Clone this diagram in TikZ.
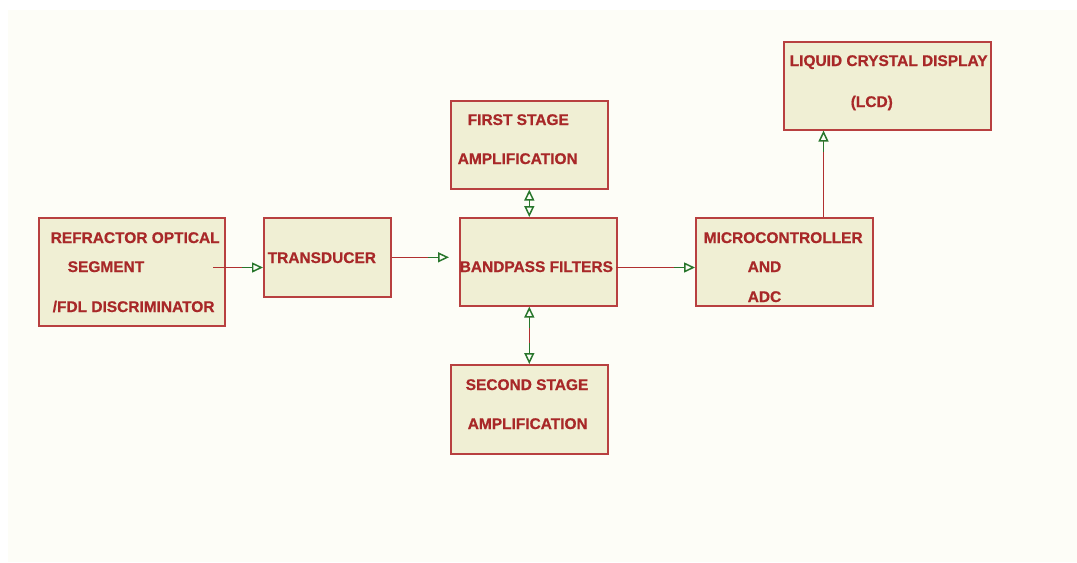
\documentclass[tikz,border=0pt]{standalone}
\usepackage{fontspec}
\setmainfont{Liberation Sans}[BoldFont={Liberation Sans Bold},BoldFeatures={FakeBold=0.8}]
\usepackage{tikz}
\usetikzlibrary{positioning, calc}
\usetikzlibrary{arrows.meta}
\definecolor{pagebg}{RGB}{253,253,247}
\definecolor{boxfill}{RGB}{240,239,212}
\definecolor{boxline}{RGB}{184,64,64}
\definecolor{txtred}{RGB}{168,40,40}
\definecolor{wirered}{RGB}{176,48,48}
\definecolor{tipgreen}{RGB}{40,118,44}

\begin{document}
\begin{tikzpicture}[x=0.02cm,y=-0.02cm,line width=0.85pt]

	\def \u{0.02cm}
	\tikzstyle{blk}=[draw=boxline,fill=boxfill,line width=0.9pt,anchor=north west,inner sep=0pt]
	\tikzstyle{lbl}=[anchor=base west,inner sep=0pt,text=txtred,font=\bfseries\fontsize{8.8}{10}\selectfont]
	\tikzstyle{link}=[draw=wirered,-{Triangle[open,length=11*\u,width=10*\u,color=tipgreen]}]
	\tikzstyle{both}=[draw=wirered,{Triangle[open,length=11*\u,width=10*\u,color=tipgreen]}-{Triangle[open,length=11*\u,width=10*\u,color=tipgreen]}]
	\tikzstyle{gseg}=[draw=tipgreen]

	% page
	\useasboundingbox (0,0) rectangle (1077,562);
	\fill[pagebg] (8,10) rectangle (1077,562);

	% boxes
	\node[blk,minimum width=186*\u,minimum height=108*\u] (refr)   at (38,217)  {};
	\node[blk,minimum width=127*\u,minimum height=79*\u]  (trans)  at (263,217) {};
	\node[blk,minimum width=157*\u,minimum height=88*\u]  (first)  at (450,100) {};
	\node[blk,minimum width=157*\u,minimum height=88*\u]  (band)   at (459,217) {};
	\node[blk,minimum width=157*\u,minimum height=89*\u]  (second) at (450,364) {};
	\node[blk,minimum width=177*\u,minimum height=88*\u]  (micro)  at (695,217) {};
	\node[blk,minimum width=207*\u,minimum height=88*\u]  (lcd)    at (783,41)  {};

	% labels
	\node[lbl] (refr-a)   at (50,243)  {REFRACTOR OPTICAL};
	\node[lbl] (refr-b)   at (67,272)  {SEGMENT};
	\node[lbl] (refr-c)   at (52,312)  {/FDL DISCRIMINATOR};
	\node[lbl] (trans-a)  at (267,263) {TRANSDUCER};
	\node[lbl] (first-a)  at (467,125) {FIRST STAGE};
	\node[lbl] (first-b)  at (457,164) {AMPLIFICATION};
	\node[lbl] (band-a)   at (459,272) {BANDPASS FILTERS};
	\node[lbl] (second-a) at (465,390) {SECOND STAGE};
	\node[lbl] (second-b) at (467,429) {AMPLIFICATION};
	\node[lbl] (micro-a)  at (703,243) {MICROCONTROLLER};
	\node[lbl] (micro-b)  at (747,272) {AND};
	\node[lbl] (micro-c)  at (747,302) {ADC};
	\node[lbl] (lcd-a)    at (789,66)  {LIQUID CRYSTAL DISPLAY};
	\node[lbl] (lcd-b)    at (850,107) {(LCD)};

	% connectors
	\coordinate (refr-out)  at (213,267.5);
	\coordinate (band-out)  at (616,267.5);
	\coordinate (micro-top) at (823.5,217);
	\coordinate (trans-in)  at (refr-out -| trans.west);
	\coordinate (band-in)   at ([xshift=-10*\u]trans.east -| band.west);
	\coordinate (micro-in)  at (band-out -| micro.west);
	\coordinate (lcd-in)    at (micro-top |- lcd.south);
	\coordinate (band-top)  at (first.south |- band.north);
	\coordinate (band-bot)  at (second.north |- band.south);

	\draw[link] (refr-out) -- (trans-in);
	\draw[link] (trans.east) -- (band-in);
	\draw[link] (band-out) -- (micro-in);
	\draw[link] (micro-top) -- (lcd-in);
	\draw[both,draw=tipgreen] (first.south) -- (band-top);
	\draw[both] (second.north) -- (band-bot);

	% green ends of the wires
	\draw[gseg] ($(trans-in)!0.42cm!(refr-out)$) -- ($(trans-in)!0.22cm!(refr-out)$);
	\draw[gseg] ($(band-in)!0.42cm!(trans.east)$) -- ($(band-in)!0.22cm!(trans.east)$);
	\draw[gseg] ($(micro-in)!0.42cm!(band-out)$) -- ($(micro-in)!0.22cm!(band-out)$);
	\draw[gseg] ($(lcd-in)!0.42cm!(micro-top)$) -- ($(lcd-in)!0.22cm!(micro-top)$);
	\draw[gseg] ($(second.north)!0.42cm!(band-bot)$) -- ($(second.north)!0.22cm!(band-bot)$);
	\draw[gseg] ($(band-bot)!0.42cm!(second.north)$) -- ($(band-bot)!0.22cm!(second.north)$);

\end{tikzpicture}
\end{document}
